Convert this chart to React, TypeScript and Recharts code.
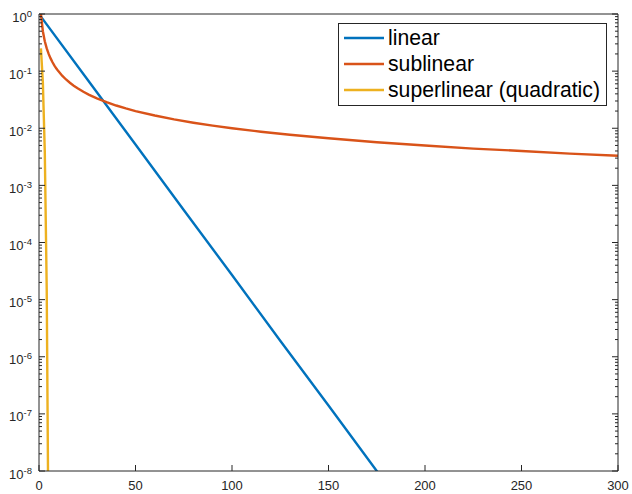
import { Legend, Line, LineChart, XAxis, YAxis } from "recharts";

const AXIS = "#262626";
const BLUE = "#0072bd";
const ORANGE = "#d95319";
const YELLOW = "#edb120";
const FONT = '"Liberation Sans", Arial, Helvetica, sans-serif';

// values
const LINEAR_X = [1, 25, 50, 75, 100, 125, 150, 175, 200];
const LINEAR_Y = [0.9, 0.072, 0.0052, 3.7e-4, 2.7e-5, 1.9e-6, 1.4e-7, 1.0e-8, 7.1e-10];

const SUB_X = [
  1, 2, 3, 4, 5, 6, 7, 8, 9, 10, 12, 14, 16, 18, 20, 23, 26, 30, 35, 40, 45, 50, 60, 70, 80, 90, 100,
  115, 130, 150, 175, 200, 225, 250, 275, 300,
];
const SUB_Y = [
  1, 0.5, 0.333, 0.25, 0.2, 0.167, 0.143, 0.125, 0.111, 0.1, 0.0833, 0.0714, 0.0625, 0.0556, 0.05,
  0.0435, 0.0385, 0.0333, 0.0286, 0.025, 0.0222, 0.02, 0.0167, 0.0143, 0.0125, 0.0111, 0.01, 0.0087,
  0.0077, 0.0067, 0.0057, 0.005, 0.0044, 0.004, 0.0036, 0.0033,
];

const SUPER_X = [1, 2, 3, 4, 5];
const SUPER_Y = [0.25, 0.063, 0.0039, 1.5e-5, 2.3e-10];

const X_TICKS = [0, 50, 100, 150, 200, 250, 300];
const Y_MAJOR = [1e-8, 1e-7, 1e-6, 1e-5, 1e-4, 1e-3, 1e-2, 1e-1, 1];
const Y_MINOR_MULT = [2, 3, 4, 5, 6, 7, 8, 9];
const Y_TICKS = [
  ...Y_MAJOR,
  ...Y_MAJOR.slice(0, -1).flatMap((d) => Y_MINOR_MULT.map((m) => m * d)),
];

const toPoints = (xs: number[], ys: number[]) => xs.map((x, i) => ({ x, y: ys[i] }));

const linear = toPoints(LINEAR_X, LINEAR_Y);
const sublinear = toPoints(SUB_X, SUB_Y);
const superlinear = toPoints(SUPER_X, SUPER_Y);

const isMajor = (v: number) => Y_MAJOR.includes(v);

function LeftTick({ x, y, payload }: any) {
  const v = payload.value;
  const major = isMajor(v);
  return (
    <g>
      <line x1={x} y1={y} x2={x + (major ? 6 : 3)} y2={y} stroke={AXIS} strokeWidth={1} />
      {major && (
        <text x={x - 7} y={y + 7.5} textAnchor="end" fontSize={13} fill={AXIS} fontFamily={FONT}>
          10
          <tspan dy={-5} fontSize={9.5}>
            {Math.round(Math.log10(v))}
          </tspan>
        </text>
      )}
    </g>
  );
}

function RightTick({ x, y, payload }: any) {
  const major = isMajor(payload.value);
  return <line x1={x} y1={y} x2={x - (major ? 6 : 3)} y2={y} stroke={AXIS} strokeWidth={1} />;
}

function BottomTick({ x, y, payload }: any) {
  return (
    <g>
      <line x1={x} y1={y} x2={x} y2={y - 6} stroke={AXIS} strokeWidth={1} />
      <text x={x} y={y + 18.5} textAnchor="middle" fontSize={13} fill={AXIS} fontFamily={FONT}>
        {payload.value}
      </text>
    </g>
  );
}

function TopTick({ x, y }: any) {
  return <line x1={x} y1={y} x2={x} y2={y + 6} stroke={AXIS} strokeWidth={1} />;
}

function LegendBox({ payload }: any) {
  return (
    <div
      style={{
        border: `1px solid ${AXIS}`,
        background: "#fff",
        padding: "1px 0 0 5px",
        fontFamily: FONT,
        fontSize: 21.2,
        color: "#000",
        boxSizing: "border-box",
        width: 269,
        height: 83,
      }}
    >
      {(payload || []).map((e: any) => (
        <div key={e.value} style={{ display: "flex", alignItems: "center", height: 26 }}>
          <svg width={40} height={4} style={{ marginRight: 4 }}>
            <line x1={0} y1={2} x2={40} y2={2} stroke={e.color} strokeWidth={2.5} />
          </svg>
          <span>{e.value}</span>
        </div>
      ))}
    </div>
  );
}

export default function App() {
  return (
    <div style={{ position: "absolute", left: 0, top: 0, width: 632, height: 494, background: "#fff" }}>
      <LineChart width={632} height={494} margin={{ top: 0, right: 0, bottom: 0, left: 0 }}>
        <XAxis
          xAxisId="b"
          dataKey="x"
          type="number"
          domain={[0, 300]}
          ticks={X_TICKS}
          height={23}
          tickSize={0}
          tickMargin={0}
          tickLine={false}
          axisLine={{ stroke: AXIS }}
          tick={<BottomTick />}
          interval={0}
        />
        <XAxis
          xAxisId="t"
          orientation="top"
          dataKey="x"
          type="number"
          domain={[0, 300]}
          ticks={X_TICKS}
          height={14}
          tickSize={0}
          tickMargin={0}
          tickLine={false}
          axisLine={{ stroke: AXIS }}
          tick={<TopTick />}
          interval={0}
        />
        <YAxis
          yAxisId="l"
          type="number"
          scale="log"
          domain={[1e-8, 1]}
          allowDataOverflow
          ticks={Y_TICKS}
          width={39}
          tickSize={0}
          tickMargin={0}
          tickLine={false}
          axisLine={{ stroke: AXIS }}
          tick={<LeftTick />}
          interval={0}
        />
        <YAxis
          yAxisId="r"
          orientation="right"
          type="number"
          scale="log"
          domain={[1e-8, 1]}
          allowDataOverflow
          ticks={Y_TICKS}
          width={14}
          tickSize={0}
          tickMargin={0}
          tickLine={false}
          axisLine={{ stroke: AXIS }}
          tick={<RightTick />}
          interval={0}
        />
        <Legend
          layout="vertical"
          align="center"
          verticalAlign="middle"
          content={<LegendBox />}
          wrapperStyle={{ left: 338, top: 23, width: 269, height: 83 }}
        />
        <Line
          xAxisId="b"
          yAxisId="l"
          data={linear}
          dataKey="y"
          name="linear"
          type="linear"
          stroke={BLUE}
          strokeWidth={2.4}
          dot={false}
          isAnimationActive={false}
        />
        <Line
          xAxisId="b"
          yAxisId="l"
          data={sublinear}
          dataKey="y"
          name="sublinear"
          type="linear"
          stroke={ORANGE}
          strokeWidth={2.4}
          dot={false}
          isAnimationActive={false}
        />
        <Line
          xAxisId="b"
          yAxisId="l"
          data={superlinear}
          dataKey="y"
          name="superlinear (quadratic)"
          type="linear"
          stroke={YELLOW}
          strokeWidth={2.4}
          dot={false}
          isAnimationActive={false}
        />
      </LineChart>
    </div>
  );
}
